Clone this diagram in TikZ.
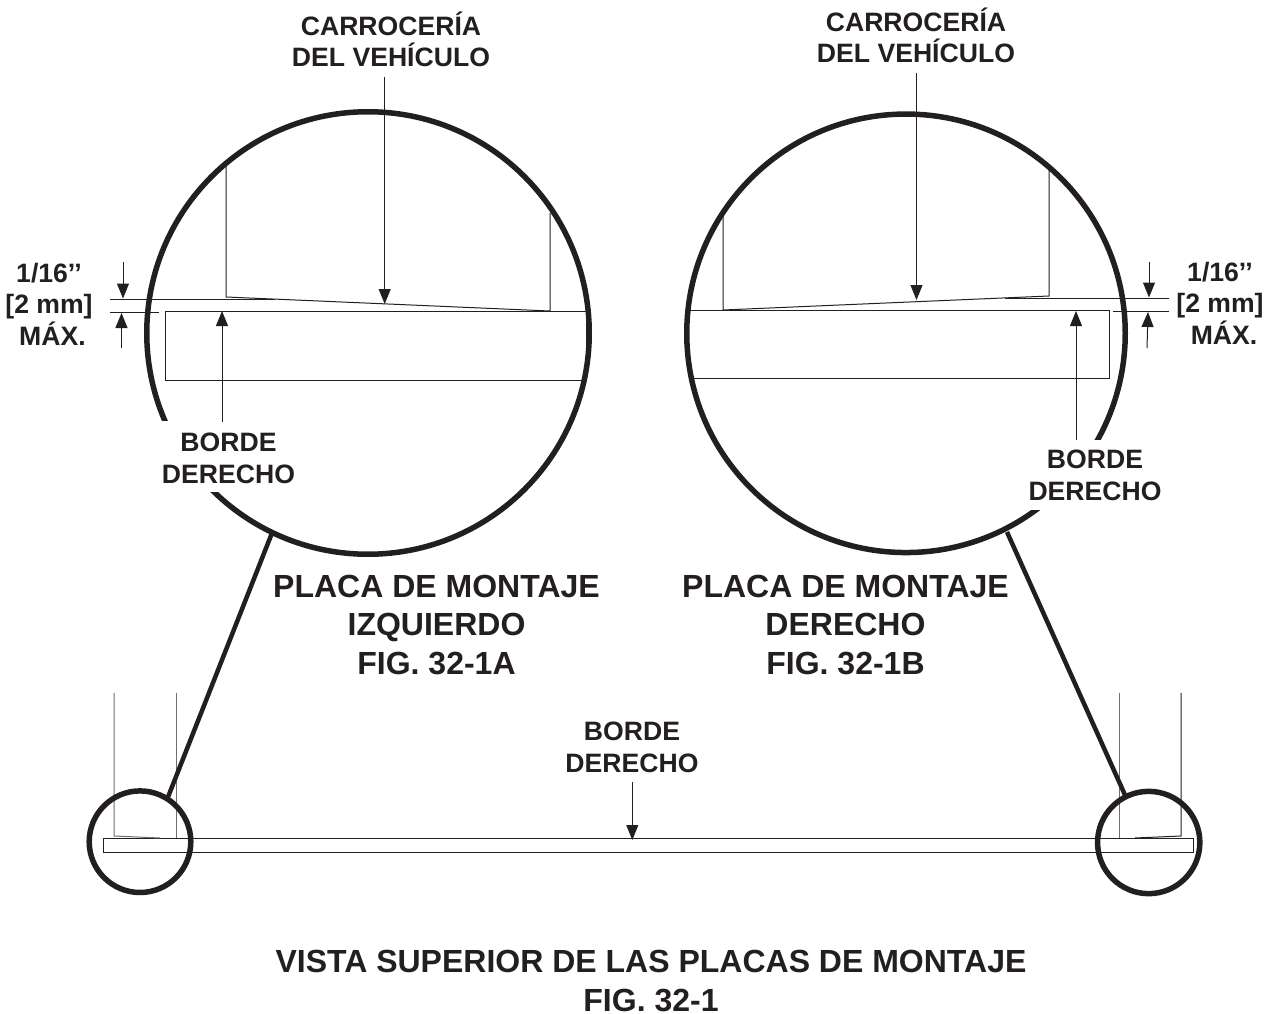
\documentclass[tikz,border=0pt]{standalone}
\usepackage{fontspec}
\setmainfont{Liberation Sans}
\usetikzlibrary{arrows.meta}
\definecolor{ink}{HTML}{231F20}
\tikzset{
 thick line/.style={draw=ink,line width=5.5pt,outer sep=0pt},
 thin line/.style={draw=ink,line width=1pt},
 pale line/.style={draw=ink!65,line width=1pt},
 pointer/.style={draw=ink,line width=1pt,-{Triangle[length=15pt,width=12pt]}},
 lbl/.style={font=\fontsize{26.6}{31.5}\selectfont\bfseries,text=ink,align=center,inner sep=0pt},
 title/.style={font=\fontsize{32}{38.5}\selectfont\bfseries,text=ink,align=center,inner sep=0pt}
}
\begin{document}
\begin{tikzpicture}[x=1pt,y=-1pt]
\useasboundingbox (0,0) rectangle (1275,1014);
% large circles
\node[circle,thick line,minimum size=442.5pt,inner sep=0pt] (bigL) at (368,333) {};
\node[circle,thick line,minimum size=438.5pt,inner sep=0pt] (bigR) at (906,333.3) {};
\fill[white] (150,421) rectangle (300,492);
\fill[white] (1030,440) rectangle (1170,510);
% left detail
\coordinate (lA) at (226,165); \coordinate (lB) at (226,297); \coordinate (lC) at (550,311);
\coordinate (lD) at (550,213); \coordinate (lE) at (110,299.7); \coordinate (lF) at (110,312);
\coordinate (lG) at (159,312); \coordinate (lH) at (275,299.7);
\draw[thin line] (lA) -- (lB) -- (lC) -- (lD);
\draw[thin line] (lE) -- (lH);
\draw[thin line] (lF) -- (lG);
\draw[thin line] (165,311) rectangle (586,380);
\draw[thin line] (586,311) -- (590,311);
% right detail
\coordinate (rA) at (1049,165); \coordinate (rB) at (1049,296); \coordinate (rC) at (723,310);
\coordinate (rD) at (723,213); \coordinate (rE) at (1169,298.4); \coordinate (rF) at (1169,311);
\coordinate (rG) at (1113,311); \coordinate (rH) at (1005,298.4);
\draw[thin line] (rA) -- (rB) -- (rC) -- (rD);
\draw[thin line] (rE) -- (rH);
\draw[thin line] (rF) -- (rG);
\draw[thin line] (690,310) -- (1109,310) -- (1109,378) -- (693,378);
% top view
\node[draw=ink,line width=1pt,minimum width=1090pt,minimum height=14pt,inner sep=0pt,outer sep=0pt] (plate) at (648,845.3) {};
\coordinate (pLa) at (114,693); \coordinate (pLb) at (114,836); \coordinate (pLc) at (160,838);
\coordinate (pLd) at (176,693); \coordinate (pLe) at (176,838);
\coordinate (pRa) at (1181,693); \coordinate (pRb) at (1181,836); \coordinate (pRc) at (1135,838);
\coordinate (pRd) at (1119,693); \coordinate (pRe) at (1119,838);
\draw[pale line] (pLa) -- (pLb) -- (pLc);
\draw[pale line] (pLd) -- (pLe);
\draw[pale line] (pRd) -- (pRe);
\draw[thin line] (pRa) -- (pRb) -- (pRc);
% small circles and leaders
\node[circle,thick line,minimum size=101.6pt,inner sep=0pt] (smallL) at (140,841.7) {};
\node[circle,thick line,minimum size=102.3pt,inner sep=0pt] (smallR) at (1148.7,842.5) {};
\coordinate (ldLa) at (272,533); \coordinate (ldLb) at (168,797);
\coordinate (ldRa) at (1007,532); \coordinate (ldRb) at (1125,795);
\draw[draw=ink,line width=4.5pt] (ldLa) -- (ldLb);
\draw[draw=ink,line width=4.5pt] (ldRa) -- (ldRb);
% labels
\node[lbl] (carrL) at (391,39.5) {CARROCERÍA\\DEL VEHÍCULO};
\node[lbl] (carrR) at (916,35.5) {CARROCERÍA\\DEL VEHÍCULO};
\node[lbl] (dimL) at (49,304) {1/16’’\\{[2 mm]}\\\hspace*{7pt}MÁX.};
\node[lbl] (dimR) at (1220,303) {1/16’’\\{[2 mm]}\\\hspace*{8pt}MÁX.};
\node[lbl] (bordeL) at (228.5,458.5) {BORDE\\DERECHO};
\node[lbl] (bordeR) at (1095,475.5) {BORDE\\DERECHO};
\node[lbl] (bordeM) at (632,747.5) {BORDE\\DERECHO};
\node[title] (placaL) at (436.5,625) {PLACA DE MONTAJE\\IZQUIERDO\\FIG. 32-1A};
\node[title] (placaR) at (845.5,625) {PLACA DE MONTAJE\\DERECHO\\FIG. 32-1B};
\node[title] (vista) at (651,981) {VISTA SUPERIOR DE LAS PLACAS DE MONTAJE\\FIG. 32-1};
% arrows
\coordinate (aCL) at (384.7,304); \coordinate (aCR) at (916.5,300);
\coordinate (aBL) at (222,311); \coordinate (aBR) at (1076,311); \coordinate (aBM) at (632.3,840);
\coordinate (sCL) at (384.7,77); \coordinate (sCR) at (916.5,73);
\coordinate (sBL) at (222,422); \coordinate (sBR) at (1076,440); \coordinate (sBM) at (632.3,782);
\draw[pointer] (sCL) -- (aCL);
\draw[pointer] (sCR) -- (aCR);
\draw[pointer] (sBL) -- (aBL);
\draw[pointer] (sBR) -- (aBR);
\draw[pointer] (sBM) -- (aBM);
\draw[pointer] (123,262) -- (123,298.5);
\draw[pointer] (121.5,348) -- (121.5,313);
\draw[pointer] (1149,262) -- (1149,297.5);
\draw[pointer] (1147,348) -- (1148,312);
\end{tikzpicture}
\end{document}
